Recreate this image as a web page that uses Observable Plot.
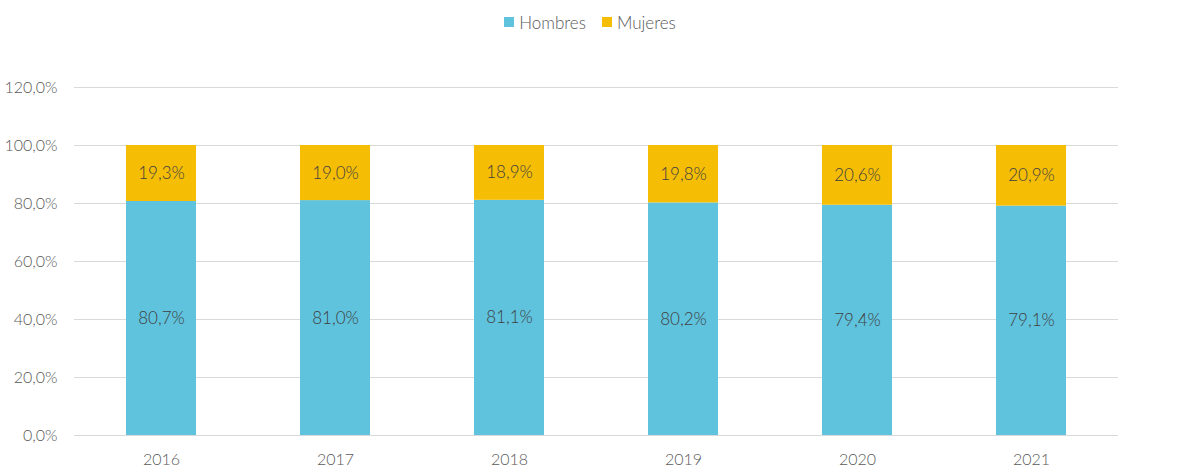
<!DOCTYPE html>
<html><head><meta charset="utf-8">
<script src="https://cdn.jsdelivr.net/npm/d3@7"></script>
<script src="https://cdn.jsdelivr.net/npm/@observablehq/plot@0.6"></script>
<style>
body{margin:0;background:#fff;font-family:Lato,"Open Sans",sans-serif;}
#wrap{position:relative;width:1180px;height:475px;}
#legend{position:absolute;top:10px;left:0;width:1180px;text-align:center;font-size:17px;color:#595959;font-weight:300;}
#legend span.it{display:inline-flex;align-items:center;margin:0 8px;}
#legend i{display:inline-block;width:10px;height:10px;margin-right:5px;}
svg text{font-weight:300;}
</style></head><body>
<div id="wrap"><div id="legend"></div><div id="chart"></div></div>
<script>
const years = ["2016","2017","2018","2019","2020","2021"];
const hombres = [80.7, 81.0, 81.1, 80.2, 79.4, 79.1];
const mujeres = [19.3, 19.0, 18.9, 19.8, 20.6, 20.9];
const seriesNames = ["Hombres","Mujeres"];
const colors = ["#5fc3dd","#f6bd05"];
const yTicks = [0,20,40,60,80,100,120];

const data = [];
years.forEach((y,i)=>{
  data.push({year:y, serie:"Hombres", v:hombres[i]});
  data.push({year:y, serie:"Mujeres", v:mujeres[i]});
});
const fmt = v => v.toFixed(1).replace(".",",") + "%";

const lg = document.getElementById("legend");
seriesNames.forEach((s,i)=>{
  const sp=document.createElement("span");sp.className="it";
  sp.innerHTML=`<i style="background:${colors[i]}"></i>${s}`;
  lg.appendChild(sp);
});

const chart = Plot.plot({
  width:1180, height:475,
  marginTop:87, marginBottom:40, marginLeft:74, marginRight:62,
  style:{fontFamily:"Lato, 'Open Sans', sans-serif", fontSize:"16px", color:"#595959", background:"#fff"},
  x:{domain:years, paddingInner:0.6, paddingOuter:0.3, label:null, tickSize:0, tickPadding:18},
  y:{domain:[0,120], ticks:yTicks, label:null, tickSize:0, tickPadding:17, tickFormat:fmt},
  color:{domain:seriesNames, range:colors},
  marks:[
    Plot.gridY(yTicks,{stroke:"#d9d9d9", strokeOpacity:1}),
    Plot.barY(data, Plot.stackY({x:"year", y:"v", fill:"serie", order:seriesNames})),
    Plot.text(data, Plot.stackY({x:"year", y:"v", z:"serie", order:seriesNames, text:d=>fmt(d.v), fill:"#404040", fontSize:17})),
  ]
});
document.getElementById("chart").appendChild(chart);
</script>
</body></html>
